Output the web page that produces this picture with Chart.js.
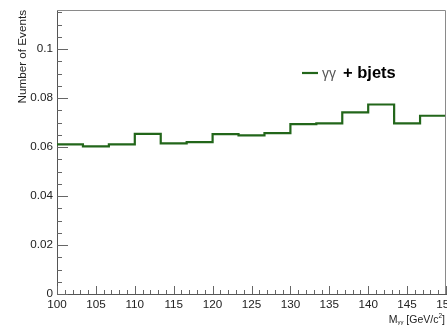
<!DOCTYPE html>
<html>
<head>
<meta charset="utf-8">
<script src="https://cdn.jsdelivr.net/npm/chart.js@4/dist/chart.umd.min.js"></script>
<style>
  html, body { margin: 0; padding: 0; background: #fff; }
  #wrap { width: 447px; height: 325px; position: relative; }
</style>
</head>
<body>
<div id="wrap"><canvas id="c" width="447" height="325"></canvas></div>
<script>
// ---- data ----
const binLow = 100;
const binHigh = 150;
const binValues = [0.0611, 0.0603, 0.0611, 0.0654, 0.0615, 0.0620, 0.0653, 0.0648,
                   0.0657, 0.0694, 0.0697, 0.0742, 0.0774, 0.0697, 0.0728];
const xTickValues = [100, 105, 110, 115, 120, 125, 130, 135, 140, 145, 150];
const yTickValues = [0, 0.02, 0.04, 0.06, 0.08, 0.1];
const legendSymbol = 'γγ';
const legendText = '+ bjets';
const yTitle = 'Number of Events';
const xTitleParts = ['M', 'γγ', ' [GeV/c', '2', ']'];

const binWidth = (binHigh - binLow) / binValues.length;
const histPoints = binValues.map((v, i) => ({ x: binLow + i * binWidth, y: v }));
histPoints.push({ x: binHigh, y: binValues[binValues.length - 1] });

const FONT = "'Liberation Sans', Arial, Helvetica, sans-serif";
const lineColor = '#22661a';

const framePlugin = {
  id: 'rootFrame',
  afterDraw(chart) {
    const ctx = chart.ctx;
    const a = chart.chartArea;
    const xs = chart.scales.x, ys = chart.scales.y;
    ctx.save();
    // top + right frame
    ctx.strokeStyle = '#8a8a8a';
    ctx.lineWidth = 1;
    ctx.beginPath();
    ctx.moveTo(a.left, a.top + 0.5);
    ctx.lineTo(a.right - 0.5, a.top + 0.5);
    ctx.lineTo(a.right - 0.5, a.bottom);
    ctx.stroke();
    // ticks
    ctx.strokeStyle = '#666';
    ctx.beginPath();
    for (let k = 0; k <= 23; k++) {
      const v = k * 0.005;
      const py = Math.round(ys.getPixelForValue(v)) + 0.5;
      const len = (k % 4 === 0) ? 11 : 5;
      ctx.moveTo(a.left, py);
      ctx.lineTo(a.left + len, py);
    }
    for (let k = 0; k <= 50; k++) {
      const v = binLow + k;
      const px = Math.round(xs.getPixelForValue(v)) + 0.5;
      const len = (k % 5 === 0) ? 8 : 4;
      ctx.moveTo(px, a.bottom);
      ctx.lineTo(px, a.bottom - len);
    }
    ctx.stroke();

    // legend
    ctx.strokeStyle = lineColor;
    ctx.lineWidth = 2.2;
    ctx.beginPath();
    ctx.moveTo(302, 73);
    ctx.lineTo(318, 73);
    ctx.stroke();
    ctx.textBaseline = 'alphabetic';
    ctx.textAlign = 'left';
    ctx.fillStyle = '#555';
    ctx.font = '14px ' + FONT;
    ctx.fillText(legendSymbol, 322, 78);
    ctx.fillStyle = '#000';
    ctx.font = 'bold 16.5px ' + FONT;
    ctx.fillText(legendText, 343, 78);

    // y title
    ctx.save();
    ctx.translate(26, a.top);
    ctx.rotate(-Math.PI / 2);
    ctx.textAlign = 'right';
    ctx.textBaseline = 'alphabetic';
    ctx.fillStyle = '#222';
    ctx.font = '11.7px ' + FONT;
    ctx.fillText(yTitle, 0, 0);
    ctx.restore();

    // x title (right aligned)
    const base = 322.5;
    const fonts = ['10.5px ' + FONT, '6px ' + FONT, '10.5px ' + FONT, '6.5px ' + FONT, '10.5px ' + FONT];
    const dy = [0, 1.5, 0, -4.5, 0];
    const widths = xTitleParts.map((t, i) => { ctx.font = fonts[i]; return ctx.measureText(t).width; });
    let x = 445 - widths.reduce((s, w) => s + w, 0);
    ctx.fillStyle = '#222';
    ctx.textAlign = 'left';
    xTitleParts.forEach((t, i) => {
      ctx.font = fonts[i];
      ctx.fillText(t, x, base + dy[i]);
      x += widths[i];
    });
    ctx.restore();
  }
};

new Chart(document.getElementById('c'), {
  type: 'line',
  data: {
    datasets: [{
      data: histPoints,
      stepped: true,
      borderColor: lineColor,
      borderWidth: 2.2,
      pointRadius: 0,
      fill: false,
      tension: 0
    }]
  },
  options: {
    responsive: false,
    animation: false,
    devicePixelRatio: 1,
    layout: { padding: { top: 10, right: 1, left: 0, bottom: 0 } },
    plugins: { legend: { display: false }, tooltip: { enabled: false } },
    scales: {
      x: {
        type: 'linear',
        min: binLow,
        max: binHigh,
        afterBuildTicks: s => { s.ticks = xTickValues.map(v => ({ value: v })); },
        afterFit: s => { s.height = 31; s.paddingLeft = 0; s.paddingRight = 0; },
        grid: { display: false, drawTicks: false },
        border: { display: true, color: '#555', width: 1 },
        ticks: {
          color: '#222',
          padding: 4,
          maxRotation: 0,
          autoSkip: false,
          font: { family: FONT, size: 11.7 },
          callback: v => String(v)
        }
      },
      y: {
        type: 'linear',
        min: 0,
        max: 0.116,
        afterBuildTicks: s => { s.ticks = yTickValues.map(v => ({ value: v })); },
        afterFit: s => { s.width = 57; s.paddingTop = 0; s.paddingBottom = 0; },
        grid: { display: false, drawTicks: false },
        border: { display: true, color: '#555', width: 1 },
        ticks: {
          color: '#222',
          padding: 4,
          autoSkip: false,
          font: { family: FONT, size: 11.7 },
          callback: v => String(Math.round(v * 100) / 100)
        }
      }
    }
  },
  plugins: [framePlugin]
});
</script>
</body>
</html>
